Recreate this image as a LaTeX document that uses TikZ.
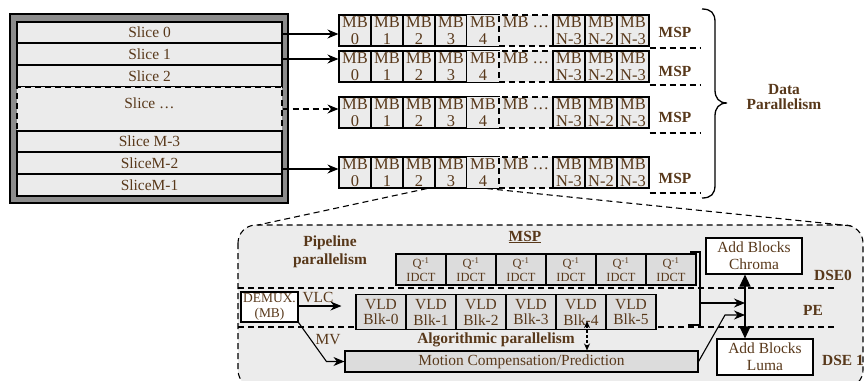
\documentclass[tikz,border=0pt]{standalone}
\usepackage{fontspec}
\setmainfont{Liberation Serif}
\usetikzlibrary{arrows.meta,calc}

\definecolor{txt}{RGB}{88,56,26}
\definecolor{cellfill}{RGB}{235,235,235}
\definecolor{boxfill}{RGB}{220,220,220}
\definecolor{framegray}{RGB}{140,140,140}
\definecolor{panel}{RGB}{236,236,236}

% one row of macroblocks: #1 = name prefix, #2 = centre y
\newcommand\mbrow[2]{%
  \foreach \i in {0,...,3}{\node[mb] (#1c\i) at ({355+32*\i},#2) {MB\\\i};}
  \node[mb, draw=none] (#1c4) at (483,#2) {MB\\4};
  \node[mb, dsh, minimum width=54bp] (#1d) at (526,#2) {MB …\\\phantom{0}};
  \draw[ln] (#1c4.north east) -- (#1c4.north west) -- (#1c4.south west) -- (#1c4.south east);
  \node[mb] (#1n3) at (569,#2) {MB\\N-3};
  \node[mb] (#1n2) at (601,#2) {MB\\N-2};
  \node[mb] (#1n1) at (633,#2) {MB\\N-3};
}

\begin{document}
\begin{tikzpicture}[x=1bp,y=-1bp,
  every node/.style={text=txt, inner sep=0pt, font=\fontsize{15.5}{16}\selectfont},
  ln/.style={line width=1.1bp},
  dsh/.style={dash pattern=on 6bp off 4bp},
  arr/.style={ln, -{Stealth[length=11bp,width=9bp]}},
  slice/.style={draw, ln, fill=cellfill, minimum width=265bp},
  mb/.style={draw, ln, fill=cellfill, minimum width=32bp, minimum height=31bp, align=center, font=\fontsize{16.5}{16.5}\selectfont},
  lbl/.style={align=center, font=\fontsize{15.5}{16}\selectfont\bfseries},
  qbox/.style={draw, ln, fill=boxfill, minimum width=50bp, minimum height=31bp, align=center, font=\fontsize{12.5}{14}\selectfont},
  vld/.style={draw, ln, fill=boxfill, minimum width=50bp, minimum height=35bp, align=center, font=\fontsize{15.5}{16}\selectfont},
  wbox/.style={draw, ln, fill=white, align=center, font=\fontsize{15.5}{17}\selectfont},
]
\useasboundingbox (0,0) rectangle (864,380);
\clip (0,0) rectangle (864,380);

% ---- picture split into slices ----
\draw[line width=1.3bp, fill=framegray] (10,14) rectangle (288,203);
\node[slice, minimum height=21bp] (s0) at (149.5,32.5) {Slice 0};
\node[slice, minimum height=22bp] (s1) at (149.5,54) {Slice 1};
\node[slice, minimum height=22bp] (s2) at (149.5,76) {Slice 2};
\node[slice, dsh, minimum height=44bp] (sd) at (149.5,109) {};
\node (sdt) at ([yshift=6bp]sd.center) {Slice …};
\node[slice, minimum height=21bp] (sm3) at (149.5,141.5) {Slice M-3};
\node[slice, minimum height=22bp] (sm2) at (149.5,163) {SliceM-2};
\node[slice, minimum height=22bp] (sm1) at (149.5,185) {SliceM-1};

% ---- macroblock rows ----
\mbrow{r1}{30.5}
\mbrow{r2}{66.5}
\mbrow{r3}{112.5}
\mbrow{r4}{172.5}

\draw[arr] (s0.east |- 0,34) -- (r1c0.west |- 0,34);
\draw[arr] (s1.east |- 0,59) -- (r2c0.west |- 0,59);
\draw[arr, dsh] (sd.east |- 0,109) -- (r3c0.west |- 0,109);
\draw[arr] (sm2.east |- 0,169) -- (r4c0.west |- 0,169);

\node[lbl] (m1) at (675,32) {MSP};
\node[lbl] (m2) at (675,71) {MSP};
\node[lbl] (m3) at (675,117) {MSP};
\node[lbl] (m4) at (675,178) {MSP};
\foreach \r/\yy in {r1/48,r2/85,r3/133,r4/193}
  \draw[ln, dsh] (\r n1.south east |- 0,\yy) -- (700,\yy);

% brace over all rows
\draw[line width=1.3bp] (702,9) .. controls (711,9) and (715,13) .. (715,22) -- (715,90)
  .. controls (715,98) and (719,103) .. (727,103)
  .. controls (719,103) and (715,108) .. (715,116) -- (715,185)
  .. controls (715,194) and (711,198) .. (702,198);
\node[lbl] (dp) at (784,97) {Data\\Parallelism};

% ---- detail of one slice processor ----
\draw[ln, dsh, fill=panel, rounded corners=18bp] (238,225) rectangle (863,388);
\coordinate (zl) at (258,225);
\coordinate (zr) at (852,226);
\draw[ln, dsh] ([xshift=8bp]r4c2.south) -- (zl);
\draw[ln, dsh] ([xshift=4bp]r4c4.south) -- (zr);

\draw[ln, dsh] (238,288) -- (838,288);
\draw[ln, dsh] (238,327) -- (838,327);

\node[lbl, font=\fontsize{15.5}{18}\selectfont\bfseries] (pp) at (330,252) {Pipeline\\parallelism};
\node[lbl] (msp) at (525,237) {\underline{MSP}};

\foreach \i in {0,...,5}
  \node[qbox] (q\i) at ({421+50*\i},269.5) {Q\textsuperscript{-1}\\IDCT};
\foreach \i in {0,...,5}
  \node[vld] (v\i) at ({381+50*\i},312) {VLD\\Blk-\i};

\node[wbox, minimum width=57bp, minimum height=30bp, font=\fontsize{13.5}{15}\selectfont] (dmx) at (269.5,307) {DEMUX.\\(MB)};
\draw[arr] (dmx.east |- 0,306) -- ([xshift=-14bp]v0.west |- 0,306);
\node (vlc) at (318,297) {VLC};

\node[draw, ln, fill=boxfill, minimum width=353bp, minimum height=21bp] (mc) at (521.5,361.5) {Motion Compensation/Prediction};
\draw[arr] (dmx.south east) -- ([xshift=-18bp]mc.west) -- (mc.west);
\node (mv) at (328,340) {MV};

\node[lbl] (alg) at (496,340) {Algorithmic parallelism};
\draw[ln, dash pattern=on 3bp off 2bp, {Stealth[length=7bp,width=6bp]}-{Stealth[length=7bp,width=6bp]}]
  ([xshift=6bp,yshift=9bp]v4.south) -- ([xshift=6bp]v4.south |- mc.north);

\node[wbox, minimum width=96bp, minimum height=36bp] (chroma) at (754,256) {Add Blocks\\Chroma};
\node[wbox, minimum width=96bp, minimum height=36bp] (luma) at (765,357) {Add Blocks\\Luma};
\coordinate (vx) at (745,0);
\draw[ln, {Triangle[length=12bp,width=11bp]}-{Triangle[length=12bp,width=11bp]}] (chroma.south -| vx) -- (luma.north -| vx);

% bracket collecting the pipeline stages
\draw[line width=1.2bp] (690,252) -- (700,252) -- (700,325) -- (688,325);
\draw[arr] (700,303) -- (vx |- 0,303);
\draw[arr] (mc.east) -- (725,315) -- (vx |- 0,315);

\node[lbl] (dse0) at (833,275) {DSE0};
\node[lbl] (pe) at (813,310) {PE};
\node[lbl] (dse1) at (843,360) {DSE 1};
\end{tikzpicture}
\end{document}
